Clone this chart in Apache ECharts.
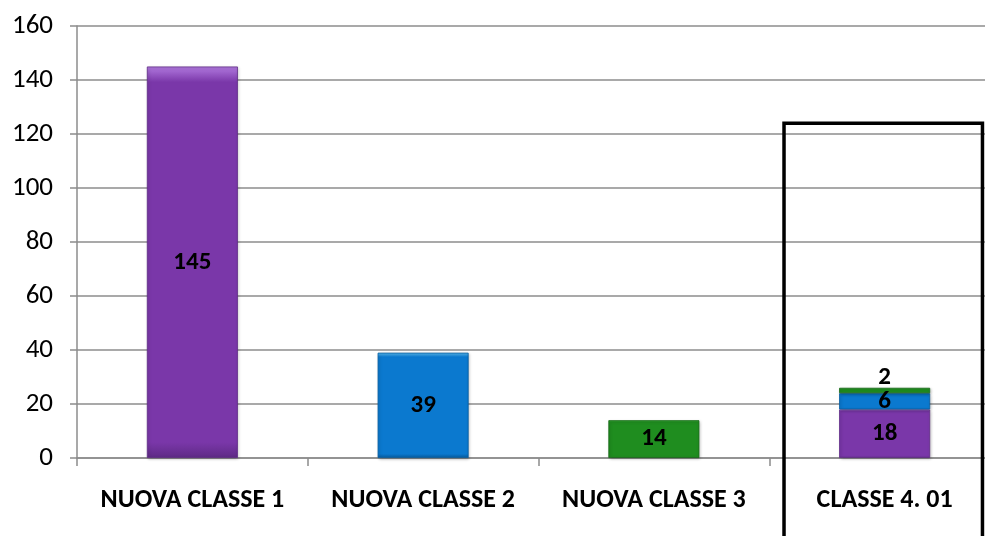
<!DOCTYPE html>
<html>
<head>
<meta charset="utf-8">
<script src="https://cdn.jsdelivr.net/npm/echarts@6/dist/echarts.min.js"></script>
<style>html,body{margin:0;padding:0;background:#fff;overflow:hidden;width:985px;height:536px;}#c{width:1000px;height:536px;}</style>
</head>
<body>
<div id="c"></div>
<script>
var categories = ['NUOVA CLASSE 1', 'NUOVA CLASSE 2', 'NUOVA CLASSE 3', 'CLASSE 4. 01'];
var purpleValues = [145, '-', '-', 18];
var blueValues = ['-', 39, '-', 6];
var greenValues = ['-', '-', 14, 2];
var yTicks = [0, 20, 40, 60, 80, 100, 120, 140, 160];
var highlightIndex = 3;
var highlightTop = 124;

var FONT = 'Carlito, Lato, "Open Sans", sans-serif';
var chart = echarts.init(document.getElementById('c'), null, {renderer: 'canvas'});

function bevel(main, light, dark) {
  return {
    type: 'linear', x: 0, y: 0, x2: 0, y2: 1,
    colorStops: [
      {offset: 0, color: light},
      {offset: 0.04, color: main},
      {offset: 0.96, color: main},
      {offset: 1, color: dark}
    ]
  };
}

var labelBase = {show: true, position: 'inside', color: '#000', fontFamily: FONT, fontWeight: 'bold', fontSize: 25};

chart.setOption({
  animation: false,
  grid: {left: 77, top: 26, right: 0, height: 432, containLabel: false},
  xAxis: {
    type: 'category',
    data: categories,
    axisLine: {lineStyle: {color: '#8c8c8c', width: 1.5}},
    axisTick: {show: true, interval: 0, length: 8, lineStyle: {color: '#8c8c8c', width: 1.5}},
    axisLabel: {interval: 0, hideOverlap: false, color: '#000', fontFamily: FONT, fontWeight: 'bold', fontSize: 26, margin: 29}
  },
  yAxis: {
    type: 'value',
    min: yTicks[0], max: yTicks[yTicks.length - 1], interval: 20,
    axisLine: {show: true, lineStyle: {color: '#8c8c8c', width: 1.5}},
    axisTick: {show: true, length: 7, lineStyle: {color: '#8c8c8c', width: 1.5}},
    splitLine: {lineStyle: {color: '#8c8c8c', width: 1.5}},
    axisLabel: {color: '#000', fontFamily: FONT, fontSize: 27, margin: 24}
  },
  series: [
    {
      name: 'viola', type: 'bar', stack: 'tot', barWidth: 91,
      data: purpleValues,
      itemStyle: {color: bevel('#7a37a9', '#b27ae0', '#5e2a85'), borderColor: '#5f2b86', borderWidth: 0.8, shadowColor: 'rgba(0,0,0,0.25)', shadowBlur: 3, shadowOffsetX: 1, shadowOffsetY: 1},
      label: labelBase
    },
    {
      name: 'blu', type: 'bar', stack: 'tot', barWidth: 91,
      data: blueValues,
      itemStyle: {color: bevel('#0b79cf', '#5ec1f5', '#075a9c'), borderColor: '#075d9f', borderWidth: 0.8, shadowColor: 'rgba(0,0,0,0.25)', shadowBlur: 3, shadowOffsetX: 1, shadowOffsetY: 1},
      label: labelBase
    },
    {
      name: 'verde', type: 'bar', stack: 'tot', barWidth: 91,
      data: greenValues.map(function (v, i) {
        if (v === '-') return v;
        return i === highlightIndex ? {value: v, label: {position: 'top', distance: -2}} : v;
      }),
      itemStyle: {color: bevel('#1f8d1f', '#5fcf5f', '#156b15'), borderColor: '#166a16', borderWidth: 0.8, shadowColor: 'rgba(0,0,0,0.25)', shadowBlur: 3, shadowOffsetX: 1, shadowOffsetY: 1},
      label: labelBase
    }
  ]
});

var c0 = chart.convertToPixel({xAxisIndex: 0}, 0);
var c1 = chart.convertToPixel({xAxisIndex: 0}, 1);
var band = c1 - c0;
var cx = chart.convertToPixel({xAxisIndex: 0}, highlightIndex);
var yTop = chart.convertToPixel({yAxisIndex: 0}, highlightTop);
var xl = cx - band * 0.436;
var xr = cx + band * 0.424;
chart.setOption({
  graphic: [{
    type: 'polyline', z: 100,
    shape: {points: [[xl, 560], [xl, yTop], [xr, yTop], [xr, 560]]},
    style: {stroke: '#000', lineWidth: 3.5, fill: null}
  }]
});
</script>
</body>
</html>
